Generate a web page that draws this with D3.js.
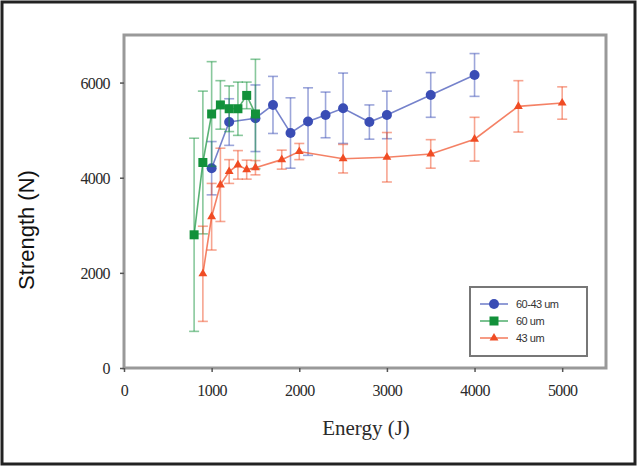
<!DOCTYPE html>
<html>
<head>
<meta charset="utf-8">
<script src="https://cdn.jsdelivr.net/npm/d3@7"></script>
<style>
  body { margin: 0; background: #fff; }
  svg { display: block; }
</style>
</head>
<body>
<script>
// data: energy (J), strength (N), error (N)
const blueEnergy = [1000, 1200, 1500, 1700, 1900, 2100, 2300, 2500, 2800, 3000, 3500, 4000];
const blueStrength = [4200, 5170, 5250, 5530, 4940, 5180, 5320, 5460, 5170, 5320, 5740, 6160];
const blueErr = [560, 490, 700, 600, 740, 710, 480, 740, 360, 500, 470, 450];

const greenEnergy = [800, 900, 1000, 1100, 1200, 1300, 1400, 1500];
const greenStrength = [2800, 4320, 5340, 5530, 5450, 5450, 5730, 5340];
const greenErr = [2030, 1500, 1100, 510, 480, 560, 280, 1150];

const redEnergy = [900, 1000, 1100, 1200, 1300, 1400, 1500, 1800, 2000, 2500, 3000, 3500, 4000, 4500, 5000];
const redStrength = [1980, 3180, 3850, 4130, 4270, 4170, 4210, 4380, 4550, 4400, 4430, 4500, 4810, 5500, 5570];
const redErr = [1000, 700, 770, 250, 300, 200, 150, 200, 170, 300, 520, 300, 460, 540, 340];

const xTicks = [0, 1000, 2000, 3000, 4000, 5000];
const yTicks = [0, 2000, 4000, 6000];
const seriesNames = ["60-43 um", "60 um", "43 um"];

const W = 637, H = 466;
const svg = d3.select("body").append("svg").attr("width", W).attr("height", H);

// outer frame
svg.append("rect").attr("x", 2).attr("y", 2).attr("width", W - 4).attr("height", H - 4)
  .attr("fill", "none").attr("stroke", "#222").attr("stroke-width", 3);

const pLeft = 124, pRight = 606, pTop = 35, pBottom = 368;
const x = d3.scaleLinear().domain([0, 5500]).range([pLeft, pRight]);
const y = d3.scaleLinear().domain([0, 7000]).range([pBottom, pTop]);

// plot box
svg.append("rect").attr("x", pLeft).attr("y", pTop).attr("width", pRight - pLeft).attr("height", pBottom - pTop)
  .attr("fill", "none").attr("stroke", "#999").attr("stroke-width", 3);

// axes
const xAxis = svg.append("g").attr("transform", `translate(0,${pBottom})`)
  .call(d3.axisBottom(x).tickValues(xTicks).tickSize(4).tickPadding(13).tickFormat(d3.format("d")));
const yAxis = svg.append("g").attr("transform", `translate(${pLeft},0)`)
  .call(d3.axisLeft(y).tickValues(yTicks).tickSize(4).tickPadding(10).tickFormat(d3.format("d")));
[xAxis, yAxis].forEach(a => {
  a.select(".domain").remove();
  a.selectAll("line").attr("stroke", "#555").attr("stroke-width", 1.5);
  a.selectAll("text").attr("font-family", "Liberation Serif").attr("font-size", 16)
    .attr("fill", "#2a2a2a").attr("letter-spacing", -0.6);
});
yAxis.selectAll("text").attr("dy", "0.35em");

// axis titles
svg.append("text").attr("x", 366).attr("y", 435).attr("text-anchor", "middle")
  .attr("font-family", "Liberation Serif").attr("font-size", 21).attr("fill", "#2a2a2a")
  .text("Energy (J)");
svg.append("text").attr("transform", "translate(34,230) rotate(-90)").attr("text-anchor", "middle")
  .attr("font-family", "Liberation Sans").attr("font-size", 22).attr("fill", "#111")
  .text("Strength (N)");

const series = [
  { name: seriesNames[0], color: "#3a4db5", e: blueEnergy, s: blueStrength, err: blueErr, shape: "circle" },
  { name: seriesNames[1], color: "#12913a", e: greenEnergy, s: greenStrength, err: greenErr, shape: "square" },
  { name: seriesNames[2], color: "#f04c24", e: redEnergy, s: redStrength, err: redErr, shape: "triangle" }
];

function marker(g, shape, color) {
  if (shape === "circle") {
    g.append("circle").attr("r", 5).attr("fill", color);
  } else if (shape === "square") {
    g.append("rect").attr("x", -4.5).attr("y", -4.5).attr("width", 9).attr("height", 9).attr("fill", color);
  } else {
    g.append("path").attr("d", d3.symbol(d3.symbolTriangle, 34)()).attr("fill", color);
  }
}

const line = d3.line().x(d => x(d.e)).y(d => y(d.s));

series.forEach(sr => {
  const pts = sr.e.map((e, i) => ({ e: e, s: sr.s[i], err: sr.err[i] }));
  const g = svg.append("g");
  const eb = g.selectAll("g.err").data(pts).join("g").attr("class", "err")
    .attr("stroke", sr.color).attr("stroke-opacity", 0.5).attr("stroke-width", 1.6);
  eb.append("line").attr("x1", d => x(d.e)).attr("x2", d => x(d.e))
    .attr("y1", d => y(d.s + d.err)).attr("y2", d => y(d.s - d.err));
  eb.append("line").attr("x1", d => x(d.e) - 5).attr("x2", d => x(d.e) + 5)
    .attr("y1", d => y(d.s + d.err)).attr("y2", d => y(d.s + d.err));
  eb.append("line").attr("x1", d => x(d.e) - 5).attr("x2", d => x(d.e) + 5)
    .attr("y1", d => y(d.s - d.err)).attr("y2", d => y(d.s - d.err));
  g.append("path").datum(pts).attr("d", line).attr("fill", "none")
    .attr("stroke", sr.color).attr("stroke-opacity", 0.7).attr("stroke-width", 1.6);
  g.selectAll("g.pt").data(pts).join("g").attr("class", "pt")
    .attr("transform", d => `translate(${x(d.e)},${y(d.s)})`)
    .each(function () { marker(d3.select(this), sr.shape, sr.color); });
});

// legend
const lg = svg.append("g");
lg.append("rect").attr("x", 470).attr("y", 287).attr("width", 117).attr("height", 69)
  .attr("fill", "#fff").attr("stroke", "#777").attr("stroke-width", 2);
series.forEach((sr, i) => {
  const ly = 304 + i * 17;
  lg.append("line").attr("x1", 480).attr("x2", 508).attr("y1", ly).attr("y2", ly)
    .attr("stroke", sr.color).attr("stroke-opacity", 0.7).attr("stroke-width", 1.6);
  const m = lg.append("g").attr("transform", `translate(494,${ly})`);
  marker(m, sr.shape, sr.color);
  lg.append("text").attr("x", 516).attr("y", ly).attr("dy", "0.35em")
    .attr("font-family", "Liberation Sans").attr("font-size", 11).attr("fill", "#333")
    .attr("letter-spacing", -0.5).text(sr.name);
});
</script>
</body>
</html>
